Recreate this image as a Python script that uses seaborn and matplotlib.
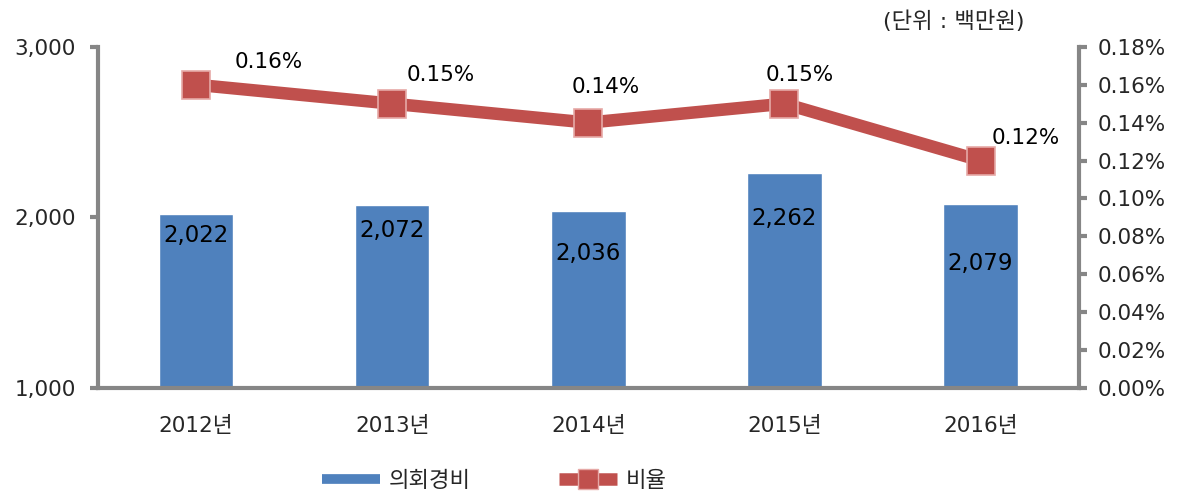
import matplotlib
matplotlib.use("Agg")

import matplotlib.pyplot as plt
import seaborn as sns
import pandas as pd
from matplotlib.lines import Line2D
from matplotlib.ticker import FuncFormatter

years = ["2012년", "2013년", "2014년", "2015년", "2016년"]
expense = [2022, 2072, 2036, 2262, 2079]
ratio = [0.16, 0.15, 0.14, 0.15, 0.12]
ratio_labels = ["0.16%", "0.15%", "0.14%", "0.15%", "0.12%"]
# how far below the bar top each value label sits (data units)
label_drop = [130, 150, 250, 270, 350]

df = pd.DataFrame({"year": years, "expense": expense, "ratio": ratio})

sns.set_style("white")
plt.rcParams["font.family"] = ["DejaVu Sans", "Noto Sans CJK KR"]

BLUE = "#4F81BD"
RED = "#C0504D"
GRAY = "#868686"
FS = 15.5

fig = plt.figure(figsize=(11.83, 4.93), dpi=100)
ax = fig.add_axes([0.0828, 0.213, 0.829, 0.692])

sns.barplot(data=df, x="year", y="expense", color=BLUE, width=0.38,
            saturation=1, ax=ax)
ax.set_ylim(1000, 3000)
ax.set_xlim(-0.5, 4.5)
ax.set_yticks([1000, 2000, 3000])
ax.yaxis.set_major_formatter(FuncFormatter(lambda v, p: f"{v:,.0f}"))
ax.set_xlabel("")
ax.set_ylabel("")

for i, v in enumerate(expense):
    ax.text(i, v - label_drop[i], f"{v:,}", ha="center", va="center",
            fontsize=16.5, color="black")

ax2 = ax.twinx()
sns.lineplot(data=df, x="year", y="ratio", color=RED, linewidth=9,
             marker="s", markersize=20, markerfacecolor=RED,
             markeredgecolor="#E6A9A7", markeredgewidth=1.2, ax=ax2)
ax2.set_ylim(0, 0.18)
ax2.set_yticks([i * 0.02 for i in range(10)])
ax2.yaxis.set_major_formatter(FuncFormatter(lambda v, p: f"{v:.2f}%"))
ax2.set_ylabel("")

offsets = [(0.37, 0.012), (0.25, 0.015), (0.09, 0.019), (0.08, 0.015), (0.23, 0.012)]
for i, r in enumerate(ratio):
    dx, dy = offsets[i]
    ax2.text(i + dx, r + dy, ratio_labels[i], ha="center", va="center",
             fontsize=FS, color="black")

for a in (ax, ax2):
    for s in a.spines.values():
        s.set_visible(False)
ax.spines["left"].set_visible(True)
ax.spines["bottom"].set_visible(True)
ax2.spines["right"].set_visible(True)
for s in (ax.spines["left"], ax.spines["bottom"], ax2.spines["right"]):
    s.set_color(GRAY)
    s.set_linewidth(3)

ax.set_xticks([-0.5, 0.5, 1.5, 2.5, 3.5, 4.5], minor=True)
ax.tick_params(axis="x", which="major", length=0, pad=20, labelsize=FS)
ax.tick_params(axis="x", which="minor", length=6, width=3, color=GRAY)
ax.tick_params(axis="y", length=6, width=3, color=GRAY, labelsize=FS,
               left=True, pad=10)
ax2.tick_params(axis="y", length=6, width=3, color=GRAY, labelsize=FS,
                right=True, pad=8)

fig.text(0.806, 0.958, "(단위 : 백만원)", ha="center", va="center", fontsize=16)

handles = [
    Line2D([], [], color=BLUE, linewidth=7, solid_capstyle="butt"),
    Line2D([], [], color=RED, linewidth=9, marker="s", markersize=14,
           markerfacecolor=RED, markeredgecolor="#E6A9A7",
           solid_capstyle="butt"),
]
fig.legend(handles, ["의회경비", "비율"], loc="center", ncol=2,
           bbox_to_anchor=(0.418, 0.025), frameon=False, fontsize=16,
           handlelength=2.6, handletextpad=0.4, columnspacing=4.0)

fig.savefig("out.png", dpi=100)
